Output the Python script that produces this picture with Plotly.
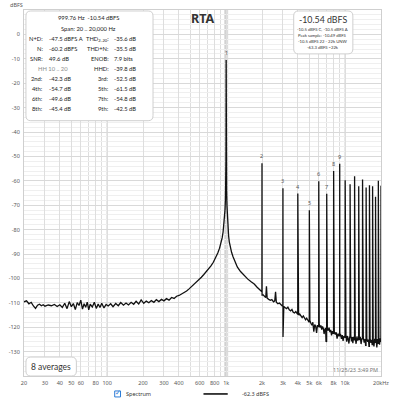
import math
import plotly.graph_objects as go

# ---------------- data ----------------
SPEC_FREQ = [
    20, 21, 22, 23, 24, 25, 26, 27, 28, 29, 30, 32, 34, 36, 38, 40, 42, 44, 46, 48,
    50, 52, 54, 56, 58, 60, 62, 64, 66, 68, 70, 72, 75, 78, 81, 84, 87, 90, 94, 98,
    102, 107, 112, 118, 124, 130, 137, 144, 151, 159, 167, 175, 184, 193, 203, 213,
    224, 235, 247, 259, 272, 286, 300, 315, 331, 348, 365, 383, 402, 422, 443, 465,
    488, 512, 537, 563, 590, 619, 649, 680, 712, 745, 780, 815, 850, 880, 905, 925,
    942, 956, 968, 978, 986, 992, 996, 998.5, 999.76, 1001.2, 1003.5, 1008, 1015,
    1025, 1035, 1048, 1062, 1085, 1110, 1140, 1180, 1240, 1320, 1410, 1520, 1620,
    1720, 1820, 1900, 1960,
    2050, 2100, 2150, 2180, 2210, 2280, 2350, 2420, 2500, 2560, 2600, 2640, 2720,
    2800, 2880, 2950, 3003, 3050, 3130, 3210, 3300, 3390, 3480, 3570, 3660, 3750,
    3850, 3940, 4060, 4150, 4250, 4350, 4450, 4550, 4650, 4750, 4850, 4950, 5050,
    5150, 5250, 5350, 5450, 5550, 5650, 5750, 5850, 5950, 6050, 6150, 6250, 6350,
    6450, 6550, 6650, 6750, 6850, 6900, 6950, 7080, 7200, 7320, 7440, 7560, 7680,
    7800, 7920, 8100, 8250, 8400, 8550, 8700, 8850, 9150, 9300, 9450, 9600, 9750,
    9900, 10150, 10300, 10450, 10600, 10750, 10900, 11150, 11300, 11450, 11600,
    11750, 11900, 12150, 12350, 12550, 12750, 12900, 13150, 13400, 13600, 13800,
    14200, 14450, 14700, 14850, 15200, 15450, 15700, 15850, 16200, 16450, 16700,
    16850, 17200, 17450, 17700, 17850, 18200, 18450, 18700, 18850, 19200, 19450,
    19700, 19850,
]
SPEC_DB = [
    -109.6, -109.2, -110.4, -109.8, -111.3, -112.3, -111.0, -110.6, -111.2, -110.8,
    -111.4, -110.9, -111.2, -110.7, -111.5, -110.8, -111.9, -110.2, -112.4, -109.5,
    -111.6, -110.3, -112.8, -109.9, -111.1, -108.9, -112.6, -110.4, -111.8, -109.7,
    -112.9, -110.6, -111.7, -109.8, -112.3, -110.5, -111.9, -110.2, -112.1, -110.7,
    -111.3, -110.4, -111.6, -110.3, -111.2, -109.9, -111.0, -110.1, -110.9, -109.8,
    -110.6, -109.4, -110.5, -108.8, -110.2, -109.3, -110.0, -109.1, -109.8, -108.7,
    -109.5, -108.6, -109.2, -108.3, -108.9, -107.8, -108.2, -107.3, -107.0, -106.4,
    -106.0, -105.2, -104.3, -103.4, -102.5, -101.6, -100.5, -99.5, -98.4, -97.3,
    -96.2, -94.9, -93.4, -91.6, -89.6, -87.6, -85.5, -83.4, -81.0, -78.4, -75.3,
    -71.8, -67.5, -61.5, -52.0, -38.0, -10.54, -38.0, -55.0, -64.0, -70.0, -75.0,
    -78.5, -82.5, -85.0, -87.6, -89.3, -91.0, -93.0, -95.3, -97.2, -98.7, -100.3,
    -101.4, -102.3, -103.6, -104.6, -105.5,
    -106.8, -107.3, -107.9, -103.2, -108.1, -108.6, -109.0, -108.7, -109.6, -109.2,
    -105.5, -109.8, -110.4, -110.1, -110.9, -111.2, -123.8, -111.5, -111.9, -112.4,
    -111.8, -112.9, -113.3, -112.7, -113.9, -114.2, -113.6, -114.8, -115.0, -114.6,
    -115.7, -116.1, -115.4, -116.6, -117.0, -116.3, -117.4, -117.8, -117.2, -118.4,
    -119.2, -118.0, -121.8, -118.9, -119.6, -122.3, -119.1, -119.8, -118.6, -120.1,
    -119.3, -121.0, -119.7, -120.5, -122.8, -120.9, -120.3, -126.0, -125.8, -120.6,
    -121.4, -120.2, -122.0, -121.1, -123.4, -121.6, -122.5, -121.8, -123.0, -122.1,
    -124.7, -122.6, -123.5, -122.9, -124.8, -123.2, -125.6, -123.7, -124.3, -123.1,
    -125.9, -123.6, -124.8, -126.7, -124.1, -123.4, -125.8, -124.0, -126.5, -123.9,
    -125.2, -124.4, -126.8, -123.8, -125.5, -124.6, -125.3, -123.9, -126.9, -124.8,
    -124.2, -126.3, -124.9, -127.4, -124.6, -126.0, -125.1, -127.8, -124.7, -126.4,
    -125.2, -127.1, -125.5, -127.9, -124.8, -126.2, -125.0, -128.3, -124.9, -126.6,
    -125.3, -127.2, -124.6, -125.8,
]

FUND_FREQ = 999.76
FUND_DB = -10.54
HARM_ORDER = list(range(2, 21))
HARM_DB = [-52.84, -63.04, -65.24, -72.04, -60.14, -65.34, -55.94, -53.04, -59.8,
           -61.4, -58.1, -62.2, -59.5, -62.7, -61.8, -62.2, -66.5, -60.0, -62.0]
LABELED_ORDERS = [1, 2, 3, 4, 5, 6, 7, 8, 9]

X_TICK_VALS = [20, 30, 40, 50, 60, 80, 100, 200, 300, 400, 600, 800, 1000, 2000,
               3000, 4000, 5000, 6000, 8000, 10000, 20000]
X_TICK_TEXT = ["20", "30", "40", "50", "60", "80", "100", "200", "300", "400", "600",
               "800", "1k", "2k", "3k", "4k", "5k", "6k", "8k", "10k", "20kHz"]
X_MINOR_VALS = [70, 90, 500, 700, 900, 7000, 9000]
X_DECADES = [100, 1000, 10000]
Y_TICK_VALS = [0, -10, -20, -30, -40, -50, -60, -70, -80, -90, -100, -110, -120, -130]
Y_TICK_TEXT = ["0", "-10", "-20", "-30", "-40", "-50", "-60", "-70", "-80", "-90",
               "-100", "-110", "-120", "-130"]

INFO_HEAD = ["999.76 Hz  -10.54 dBFS", "Span: 20 .. 20,000 Hz"]
INFO_LEFT_LABELS = ["N+D:", "N:", "SNR:", None, "2nd:", "4th:", "6th:", "8th:"]
INFO_LEFT_VALUES = ["-47.5 dBFS A", "-60.2 dBFS", "49.6 dB", None, "-42.3 dB",
                    "-54.7 dB", "-49.6 dB", "-45.4 dB"]
INFO_RIGHT_LABELS = ["THD<sub>2..20</sub>:", "THD+N:", "ENOB:", "HHD:", "3rd:", "5th:",
                     "7th:", "9th:"]
INFO_RIGHT_VALUES = ["-35.6 dB", "-35.5 dB", "7.9 bits", "-39.8 dB", "-52.5 dB",
                     "-61.5 dB", "-54.8 dB", "-42.5 dB"]
LEVEL_MAIN = "-10.54 dBFS"
LEVEL_LINES = ["-10.5 dBFS C, -10.5 dBFS A", "Peak sample: -10.49 dBFS",
               "-10.5 dBFS 22 - 22k UNW", "-63.3 dBFS ~22k"]

# ---------------- build the spectrum trace ----------------
floor = list(zip(SPEC_FREQ, SPEC_DB))
pts = list(floor)
for n, db in zip(HARM_ORDER, HARM_DB):
    f = n * FUND_FREQ
    below = [p for p in floor if p[0] < f]
    above = [p for p in floor if p[0] > f]
    left = below[-1][1] if below else db
    right = above[0][1] if above else left
    pts += [(f / 1.0015, left), (f, db), (f * 1.0015, right)]
pts.sort()
xs = [p[0] for p in pts]
ys = [p[1] for p in pts]

# ---------------- geometry helpers (pixel -> paper) ----------------
W, H = 398, 400
L, R, T, B = 20, 388, 9, 376
FONT = "Noto Sans"
BOXFONT = "Lato"


def px(x):
    return (x - L) / (R - L)


def py(y):
    return (B - y) / (B - T)


def fx(f):
    return (math.log10(f) - math.log10(20)) / 3.0


def rounded(x0, y0, x1, y1, r):
    a, b, c, d = px(x0), px(x1), py(y0), py(y1)
    rx, ry = r / (R - L), r / (B - T)
    return (f"M {a+rx},{c} L {b-rx},{c} Q {b},{c} {b},{c-ry} L {b},{d+ry} "
            f"Q {b},{d} {b-rx},{d} L {a+rx},{d} Q {a},{d} {a},{d+ry} "
            f"L {a},{c-ry} Q {a},{c} {a+rx},{c} Z")


fig = go.Figure()
fig.add_trace(go.Scatter(x=xs, y=ys, mode="lines",
                         line=dict(color="#111111", width=1.3),
                         hoverinfo="skip", showlegend=False))

shapes = []
# decade grid lines (darker)
for f in X_DECADES:
    shapes.append(dict(type="line", xref="paper", yref="paper", x0=fx(f), x1=fx(f),
                       y0=0, y1=1, line=dict(color="#b9b9b9", width=1), layer="between"))
# marker band at the fundamental
shapes.append(dict(type="line", xref="paper", yref="paper", x0=fx(FUND_FREQ),
                   x1=fx(FUND_FREQ), y0=0, y1=1,
                   line=dict(color="rgba(190,190,190,0.55)", width=4), layer="between"))
# info boxes
box_style = dict(type="path", xref="paper", yref="paper", fillcolor="white",
                 line=dict(color="#cfcfcf", width=1), layer="above")
shapes.append(dict(path=rounded(22, 10, 153, 120, 5), **box_style))
shapes.append(dict(path=rounded(298, 10, 359, 53, 5), **box_style))
shapes.append(dict(path=rounded(22, 357, 74, 376, 5), **box_style))
# legend row: checkbox and line sample
shapes.append(dict(type="rect", xref="paper", yref="paper", x0=px(113.5), x1=px(119.5),
                   y0=py(397), y1=py(391), line=dict(color="#2a7bd6", width=1),
                   fillcolor="white"))
shapes.append(dict(type="line", xref="paper", yref="paper", x0=px(205), x1=px(230),
                   y0=py(394), y1=py(394), line=dict(color="black", width=1.5)))

ann = []


def text(x, y, s, size, color="#333333", anchor="center", bold=False, family=FONT):
    if bold:
        s = f"<b>{s}</b>"
    ann.append(dict(x=px(x), y=py(y), xref="paper", yref="paper", text=s,
                    showarrow=False, xanchor=anchor, yanchor="middle",
                    font=dict(size=size, color=color, family=family)))


text(12, 4, "dBFS", 5.5, "#555555")
text(204, 18, "RTA", 12.5, "#333333", bold=True)

# left info box
BS = 5.8
text(87, 17, INFO_HEAD[0], BS, "#222222", family=BOXFONT)
text(87, 28, INFO_HEAD[1], BS, "#222222", family=BOXFONT)
row_y = [38, 48, 58, 68, 78, 88, 98, 108]
for i, yy in enumerate(row_y):
    if INFO_LEFT_LABELS[i] is None:
        text(50, yy, "HH 10 .. 20", BS, "#8a8a8a", family=BOXFONT)
    else:
        text(42, yy, INFO_LEFT_LABELS[i], BS, "#222222", anchor="right", family=BOXFONT)
        text(44, yy, INFO_LEFT_VALUES[i], BS, "#222222", anchor="left", family=BOXFONT)
    text(109.5, yy, INFO_RIGHT_LABELS[i], BS, "#222222", anchor="right", family=BOXFONT)
    text(111, yy, INFO_RIGHT_VALUES[i], BS, "#222222", anchor="left", family=BOXFONT)

# right level box
text(328, 19, LEVEL_MAIN, 8.8, "#333333", family=BOXFONT)
for i, s in enumerate(LEVEL_LINES):
    text(328, 28.3 + i * 6, s, 4.2, "#333333", family=BOXFONT)

# averages box and timestamp
text(48, 366.5, "8 averages", 8.5, "#333333", family=BOXFONT)
text(387, 370, "11/25/23 3:49 PM", 5.5, "#777777", anchor="right")

# legend row
text(117, 393.5, "✓", 7, "#2a7bd6", family="DejaVu Sans")
text(123, 394, "Spectrum", 5.5, "#333333", anchor="left")
text(243, 394, "-62.3 dBFS", 5.5, "#333333", anchor="left")

# harmonic number labels (data coordinates; log axis uses log10 for annotations)
all_db = {1: FUND_DB}
all_db.update(dict(zip(HARM_ORDER, HARM_DB)))
for n in LABELED_ORDERS:
    ann.append(dict(x=math.log10(n * FUND_FREQ), y=all_db[n], xref="x", yref="y",
                    text=str(n), showarrow=False, yanchor="bottom", yshift=1,
                    font=dict(size=5.5, color="#555555", family=FONT)))

fig.update_layout(
    width=W, height=H,
    margin=dict(l=L, r=W - R, t=T, b=H - B),
    paper_bgcolor="white", plot_bgcolor="white",
    shapes=shapes, annotations=ann,
    xaxis=dict(type="log", range=[math.log10(20), math.log10(20000)],
               tickvals=X_TICK_VALS, ticktext=X_TICK_TEXT, ticks="",
               showgrid=True, gridcolor="#dedede", gridwidth=1,
               minor=dict(tickvals=X_MINOR_VALS, showgrid=True, gridcolor="#dedede", ticks=""),
               showline=True, linecolor="#cfcfcf", mirror=True, zeroline=False,
               tickfont=dict(size=5.5, color="#555555", family=FONT),
               ticklabelstandoff=1, fixedrange=True),
    yaxis=dict(range=[-140, 10], tickvals=Y_TICK_VALS, ticktext=Y_TICK_TEXT, ticks="",
               showgrid=True, gridcolor="#d9d9d9", gridwidth=1,
               minor=dict(dtick=2, showgrid=True, gridcolor="#efefef", ticks=""),
               showline=True, linecolor="#cfcfcf", mirror=True, zeroline=False,
               tickfont=dict(size=5.5, color="#555555", family=FONT),
               ticklabelstandoff=2, fixedrange=True),
    showlegend=False,
)

fig.write_html("out.html")
